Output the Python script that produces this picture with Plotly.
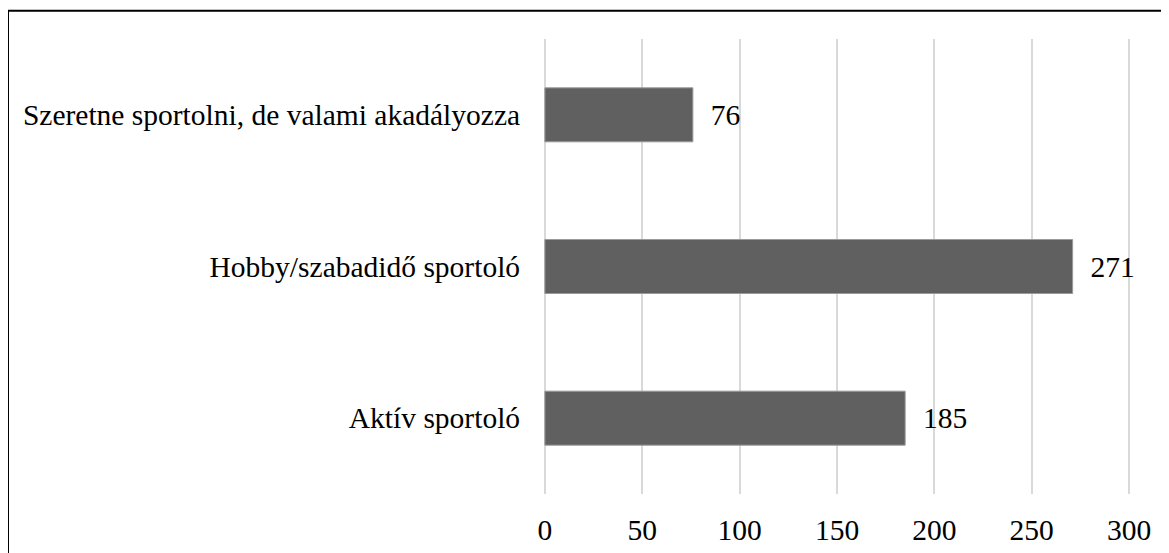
import plotly.graph_objects as go

categories = ["Aktív sportoló", "Hobby/szabadidő sportoló", "Szeretne sportolni, de valami akadályozza"]
values = [185, 271, 76]
tick_vals = [0, 50, 100, 150, 200, 250, 300]
tick_text = ["0", "50", "100", "150", "200", "250", "300"]

FONT = "Liberation Serif, Times New Roman, serif"
FS = 29.5

# the page body has an 8px default margin, so the figure is sized/offset to compensate
W, H = 1161, 545
L, R, T, B = 533, 36, 31, 59
pw = W - L - R
ph = H - T - B

def px_to_paper_x(px):
    return (px - L) / pw

def px_to_paper_y(py):
    return (H - B - py) / ph

fig = go.Figure()
fig.add_trace(go.Bar(
    y=categories,
    x=values,
    orientation="h",
    marker=dict(color="#606060", line=dict(color="#9a9a9a", width=1)),
    text=values,
    texttemplate="\u00a0\u00a0%{x}",
    textposition="outside",
    constraintext="none",
    cliponaxis=False,
    textfont=dict(family=FONT, size=FS, color="#000000"),
    hoverinfo="skip",
))

fig.update_layout(
    width=W, height=H,
    margin=dict(l=L, r=R, t=T, b=B, autoexpand=False),
    paper_bgcolor="white",
    plot_bgcolor="white",
    bargap=0.644,
    showlegend=False,
    font=dict(family=FONT, size=FS, color="#000000"),
    xaxis=dict(
        range=[-2, 302],
        tickvals=tick_vals,
        ticktext=tick_text,
        showgrid=True,
        gridcolor="#d9d9d9",
        gridwidth=1.5,
        zeroline=False,
        showline=False,
        ticks="outside",
        ticklen=10,
        tickcolor="rgba(0,0,0,0)",
        tickfont=dict(family=FONT, size=FS, color="#000000"),
        automargin=False,
        fixedrange=True,
    ),
    yaxis=dict(
        showgrid=False,
        zeroline=False,
        showline=False,
        ticks="outside",
        ticklen=14,
        tickcolor="rgba(0,0,0,0)",
        tickfont=dict(family=FONT, size=FS, color="#000000"),
        automargin=False,
        fixedrange=True,
    ),
)

# chart frame (top and left border as in the reference crop)
x0 = px_to_paper_x(0)
x1 = px_to_paper_x(W + 10)
y0 = px_to_paper_y(H + 10)
y1 = px_to_paper_y(2.8)
fig.add_shape(type="path", xref="paper", yref="paper",
              path=f"M {x0} {y0} L {x0} {y1} L {x1} {y1}",
              line=dict(color="#000000", width=2))

fig.write_html("out.html")
